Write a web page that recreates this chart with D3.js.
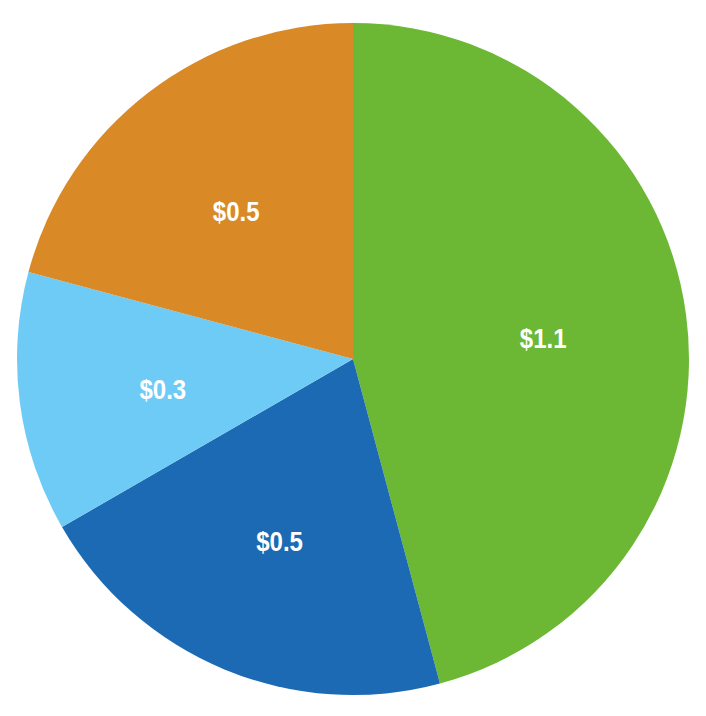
<!DOCTYPE html>
<html>
<head>
<meta charset="utf-8">
<script src="https://cdn.jsdelivr.net/npm/d3@7"></script>
<style>
  html, body { margin: 0; padding: 0; background: #ffffff; }
  svg { display: block; }
</style>
</head>
<body>
<svg id="chart" width="706" height="716"></svg>
<script>
// Data (clockwise from 12 o'clock)
const categories = ["A", "B", "C", "D"];
const values = [1.1, 0.5, 0.3, 0.5];
const labels = ["$1.1", "$0.5", "$0.3", "$0.5"];
const colors = ["#6cb835", "#1b6ab3", "#6ecbf5", "#d98a26"];

const width = 706, height = 716;
const cx = 353, cy = 359, R = 336;

const svg = d3.select("#chart");
const g = svg.append("g").attr("transform", `translate(${cx},${cy})`);

const data = categories.map((c, i) => ({ c, v: values[i], label: labels[i], color: colors[i] }));

const pie = d3.pie().value(d => d.v).sort(null);
const arc = d3.arc().innerRadius(0).outerRadius(R);
const labelArc = d3.arc().innerRadius(R * 0.571).outerRadius(R * 0.571);

const arcs = pie(data);

g.selectAll("path.slice")
  .data(arcs)
  .join("path")
  .attr("class", "slice")
  .attr("d", arc)
  .attr("fill", d => d.data.color);

g.selectAll("text.lbl")
  .data(arcs)
  .join("text")
  .attr("class", "lbl")
  .attr("transform", d => {
    const [x, y] = labelArc.centroid(d);
    return `translate(${x},${y + 5}) scale(0.89,1)`;
  })
  .attr("text-anchor", "middle")
  .attr("dominant-baseline", "central")
  .attr("font-family", "'Liberation Sans', Arial, sans-serif")
  .attr("font-weight", "bold")
  .attr("font-size", 27)
  .attr("fill", "#ffffff")
  .text(d => d.data.label);
</script>
</body>
</html>
